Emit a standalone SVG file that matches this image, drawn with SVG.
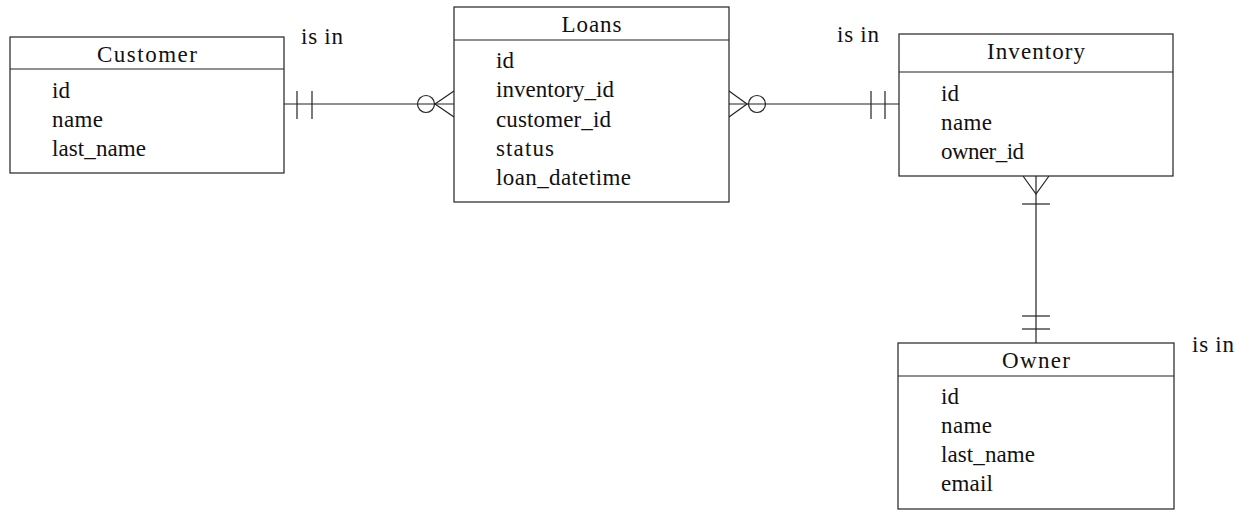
<svg xmlns="http://www.w3.org/2000/svg" width="1245" height="510" viewBox="0 0 1245 510">
  <style>
    .box { fill: #ffffff; stroke: #222222; stroke-width: 1.2; }
    .rule { stroke: #222222; stroke-width: 1.2; }
    .conn line, .conn polyline, .conn circle { fill: none; stroke: #222222; stroke-width: 1.2; }
    text { font-family: "Liberation Serif", "DejaVu Serif", serif; font-size: 23px; fill: #111111; }
    .title { text-anchor: middle; }
  </style>

  <rect width="1245" height="510" fill="#ffffff"/>

  <!-- Connectors: crow's-foot relationship lines -->
  <g id="connectors" class="conn">
    <!-- Customer (one and only one) to Loans (zero or many) -->
    <line x1="284" y1="104" x2="454" y2="104"/>
    <line x1="297" y1="91" x2="297" y2="119"/>
    <line x1="312" y1="91" x2="312" y2="119"/>
    <circle cx="426" cy="104" r="8.5"/>
    <polyline points="454,91 435,104 454,117"/>

    <!-- Loans (zero or many) to Inventory (one and only one) -->
    <line x1="729" y1="104" x2="899" y2="104"/>
    <polyline points="729,91 747,104 729,117"/>
    <circle cx="757" cy="104" r="8.5"/>
    <line x1="871" y1="91" x2="871" y2="119"/>
    <line x1="885" y1="91" x2="885" y2="119"/>

    <!-- Inventory (one or many) to Owner (one and only one) -->
    <line x1="1036" y1="176" x2="1036" y2="343"/>
    <polyline points="1023,176 1036,194 1049,176"/>
    <line x1="1022" y1="204" x2="1050" y2="204"/>
    <line x1="1022" y1="316" x2="1050" y2="316"/>
    <line x1="1022" y1="329" x2="1050" y2="329"/>
  </g>

  <!-- Relationship labels -->
  <g id="labels">
    <text x="301" y="44" textLength="42">is in</text>
    <text x="837" y="42" textLength="42">is in</text>
    <text x="1192" y="352" textLength="42">is in</text>
  </g>

  <g id="customer">
    <rect class="box" x="10" y="37" width="274" height="136"/>
    <line class="rule" x1="10" y1="69" x2="284" y2="69"/>
    <text class="title" x="147" y="62" textLength="100">Customer</text>
    <text x="52" y="98" textLength="18">id</text>
    <text x="52" y="127" textLength="51">name</text>
    <text x="52" y="156" textLength="94">last_name</text>
  </g>

  <g id="loans">
    <rect class="box" x="454" y="7" width="275" height="195"/>
    <line class="rule" x1="454" y1="40" x2="729" y2="40"/>
    <text class="title" x="591.5" y="32" textLength="60">Loans</text>
    <text x="496" y="68" textLength="18">id</text>
    <text x="496" y="97" textLength="118">inventory_id</text>
    <text x="496" y="127" textLength="115">customer_id</text>
    <text x="496" y="156" textLength="58">status</text>
    <text x="496" y="185" textLength="135">loan_datetime</text>
  </g>

  <g id="inventory">
    <rect class="box" x="899" y="34" width="274" height="142"/>
    <line class="rule" x1="899" y1="72" x2="1173" y2="72"/>
    <text class="title" x="1036" y="59" textLength="98">Inventory</text>
    <text x="941" y="101" textLength="18">id</text>
    <text x="941" y="130" textLength="51">name</text>
    <text x="941" y="159" textLength="83">owner_id</text>
  </g>

  <g id="owner">
    <rect class="box" x="898" y="343" width="276" height="166"/>
    <line class="rule" x1="898" y1="376" x2="1174" y2="376"/>
    <text class="title" x="1036" y="368" textLength="68">Owner</text>
    <text x="941" y="404" textLength="18">id</text>
    <text x="941" y="433" textLength="51">name</text>
    <text x="941" y="462" textLength="94">last_name</text>
    <text x="941" y="491" textLength="52">email</text>
  </g>
</svg>
